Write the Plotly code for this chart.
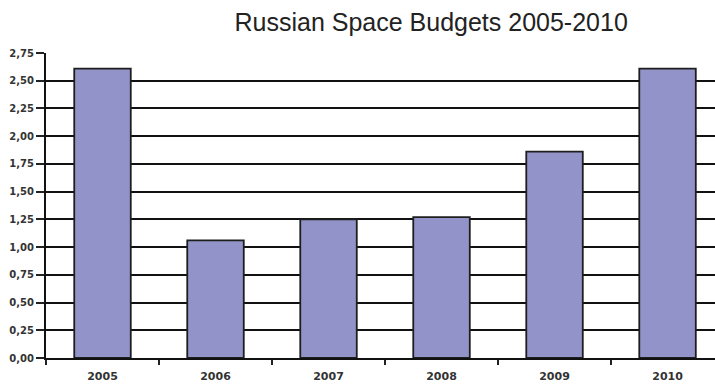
import plotly.graph_objects as go

years = ["2005", "2006", "2007", "2008", "2009", "2010"]
budgets = [2.61, 1.06, 1.25, 1.27, 1.86, 2.61]
y_ticks = [0, 0.25, 0.5, 0.75, 1.0, 1.25, 1.5, 1.75, 2.0, 2.25, 2.5, 2.75]

fig = go.Figure(go.Bar(
    x=years, y=budgets, width=0.5,
    marker=dict(color="#9293C8", line=dict(color="#1e1e1e", width=1.8)),
))

fig.update_layout(
    width=715, height=385,
    margin=dict(l=46, r=0, t=53, b=27),
    paper_bgcolor="white", plot_bgcolor="white",
    separators=", ",
    showlegend=False,
    title=dict(text="Russian Space Budgets 2005-2010", x=0.603, xanchor="center",
               y=0.943, yanchor="middle",
               font=dict(family="Liberation Sans, Arial", size=25, color="#222")),
    bargap=0.5,
)
fig.update_xaxes(
    range=[-0.5, 5.42], tickson="boundaries", ticks="outside", ticklen=5,
    tickcolor="#222", tickwidth=1.5,
    showline=True, linecolor="#111", linewidth=2, showgrid=False,
    ticklabelstandoff=7,
    tickfont=dict(family="DejaVu Sans", size=11, color="#333", weight="bold"),
)
fig.update_yaxes(
    range=[0, 2.75], tickvals=y_ticks, tickformat=".2f",
    ticks="outside", ticklen=8, tickcolor="#222", tickwidth=1.5,
    showline=True, linecolor="#111", linewidth=2,
    showgrid=True, gridcolor="#111", gridwidth=1.8,
    zeroline=False,
    tickfont=dict(family="DejaVu Sans", size=10, color="#333", weight="bold"),
)

fig.write_html("out.html")
